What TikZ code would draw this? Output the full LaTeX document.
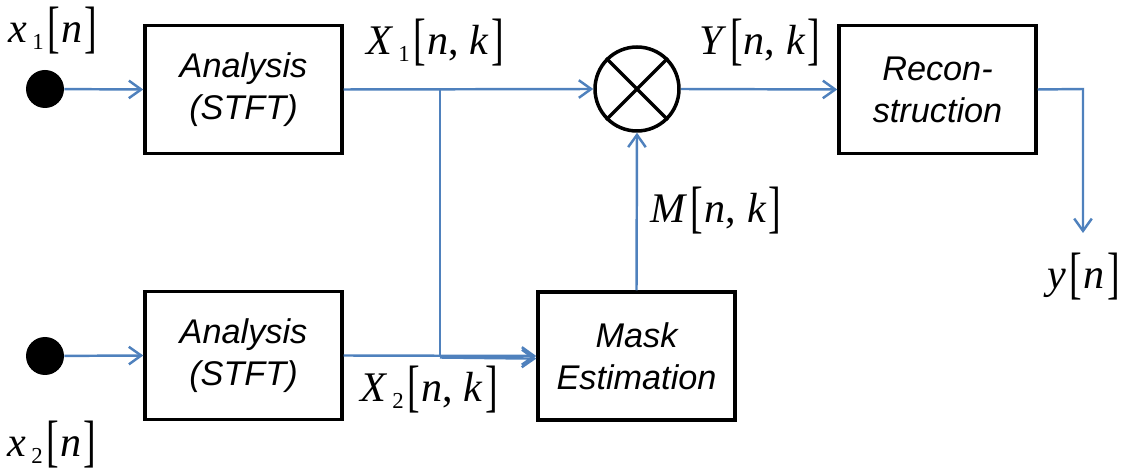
\documentclass[tikz,border=0pt]{standalone}
\usepackage{fontspec}
\usepackage{graphicx}
\setmainfont{Liberation Sans}
\newfontfamily\tms{Liberation Serif}
\usetikzlibrary{arrows.meta}
\definecolor{flowblue}{RGB}{79,129,189}
\newcommand{\LB}{\kern0.08em\raisebox{-0.1em}{\scalebox{0.9}[1.35]{[}}\kern0.03em}
\newcommand{\RB}{\kern0.06em\raisebox{-0.1em}{\scalebox{0.9}[1.35]{]}}}
\newcommand{\mysub}[1]{\kern0.12em\raisebox{-0.35ex}{\fontsize{13}{13}\selectfont #1}}
\begin{document}
\begin{tikzpicture}[x=0.02cm,y=-0.02cm,
  blockbox/.style={draw=black,line width=2pt,minimum width=3.94cm,minimum height=2.56cm,align=center,font=\fontsize{19.5}{24}\selectfont\itshape,inner sep=0pt},
  dotnode/.style={circle,fill=black,minimum size=0.76cm,inner sep=0pt},
  flow/.style={draw=flowblue,line width=1.4pt,-{Straight Barb[length=7pt,width=10pt,line width=1.4pt]}},
  plain/.style={draw=flowblue,line width=1.4pt},
  sig/.style={font=\tms\fontsize{24}{28}\selectfont,inner sep=0pt}]
\useasboundingbox (0,0) rectangle (1127,472);
% nodes
\node[dotnode] (d1) at (45,89) {};
\node[dotnode] (d2) at (45,356) {};
\node[blockbox] (a1) at (243.5,89.5) {Analysis\\(STFT)};
\node[blockbox] (a2) at (243.5,355.5) {Analysis\\(STFT)};
\node[blockbox] (rec) at (937.5,89.5) {Recon-\\struction};
\node[blockbox] (mask) at (636.5,356) {Mask\\Estimation};
\node[circle,draw=black,line width=2pt,minimum size=1.68cm,inner sep=0pt] (mul) at (637,89) {};
\draw[line width=2pt] (mul.45) -- (mul.225) (mul.135) -- (mul.315);
\coordinate (j1) at (440,89);
\coordinate (j2) at (440,357.5);
\coordinate (c1) at (1083,89);
\coordinate (yout) at (1083,233);
% connectors
\draw[flow] (d1) -- (a1.west);
\draw[flow] (d2) -- (a2.west);
\draw[flow] (a1.east) -- (mul.west);
\draw[plain] (j1) -- (j2);
\draw[flow] (j2) -- ([yshift=-1.5pt]mask.west);
\draw[flow] (a2.east) -- (mask.west);
\draw[flow] (mask.north) -- (mul.south);
\draw[flow] (mul.east) -- (rec.west);
\draw[flow] (rec.east) -- (c1) -- (yout);
% labels
\node[sig] (lx1) at (53,31) {\textit{x}\mysub{1}\LB\textit{n}\RB};
\node[sig] (lX1) at (435,43) {\textit{X}\mysub{1}\LB\textit{n}, \textit{k}\RB};
\node[sig] (lY) at (760,43) {\textit{Y}\LB\textit{n}, \textit{k}\RB};
\node[sig] (lM) at (716,211) {\textit{M}\LB\textit{n}, \textit{k}\RB};
\node[sig] (ly) at (1084,277) {\textit{y}\LB\textit{n}\RB};
\node[sig] (lX2) at (429,390) {\textit{X}\mysub{2}\LB\textit{n}, \textit{k}\RB};
\node[sig] (lx2) at (52,445) {\textit{x}\mysub{2}\LB\textit{n}\RB};
\end{tikzpicture}
\end{document}
